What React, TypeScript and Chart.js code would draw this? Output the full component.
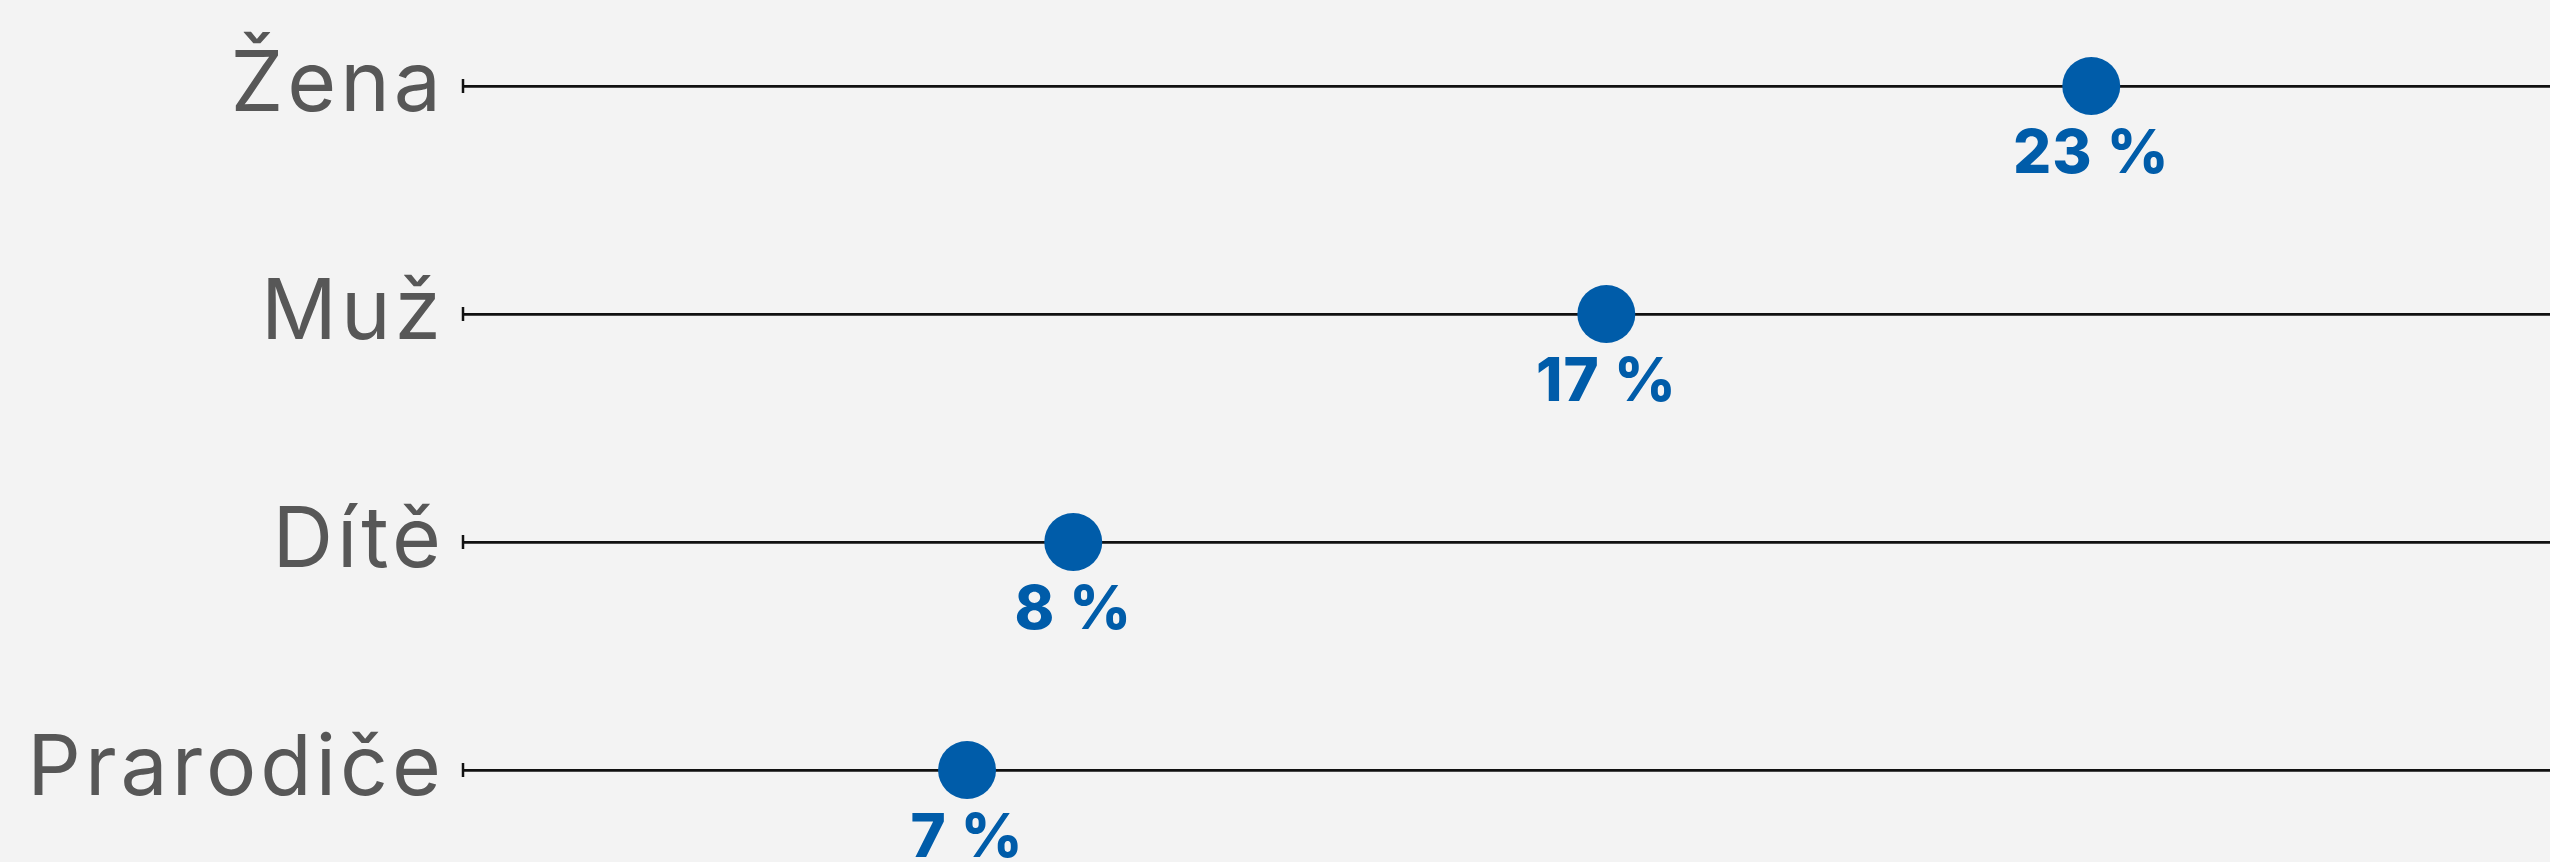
import React, { useEffect, useRef } from "react";
import { Chart, registerables } from "chart.js";

Chart.register(...registerables);

const categories = ["Žena", "Muž", "Dítě", "Prarodiče"];
// positions (axis in % units, 0 at the left tick)
const values = [23.0, 16.15, 8.62, 7.12];
const valueLabels = ["23 %", "17 %", "8 %", "7 %"];
const axisMin = 0;
const axisMax = 29.48;

const BLUE = "#005CA9";

const valueLabelPlugin = {
  id: "valueLabels",
  beforeDraw(chart: any) {
    chart.ctx.letterSpacing = "4px";
  },
  afterDatasetsDraw(chart: any) {
    const meta = chart.getDatasetMeta(1);
    const ctx = chart.ctx;
    ctx.save();
    ctx.letterSpacing = "1px";
    ctx.fillStyle = BLUE;
    ctx.font = "800 60px Inter, 'Open Sans', sans-serif";
    ctx.textAlign = "center";
    ctx.textBaseline = "alphabetic";
    meta.data.forEach((el: any, i: number) => {
      ctx.fillText(valueLabels[i], el.x, el.y + 87);
    });
    ctx.restore();
  },
};

export default function App() {
  const ref = useRef<HTMLCanvasElement>(null);
  useEffect(() => {
    if (!ref.current) return;
    const chart = new Chart(ref.current, {
      type: "scatter",
      data: {
        datasets: [
          {
            label: "start",
            data: categories.map((c) => ({ x: axisMin, y: c })) as any,
            pointStyle: "line",
            rotation: 90,
            radius: 7,
            borderWidth: 2.5,
            borderColor: "#111",
            backgroundColor: "#111",
            clip: false as any,
          },
          {
            label: "share",
            data: categories.map((c, i) => ({ x: values[i], y: c })) as any,
            pointRadius: 29,
            pointHoverRadius: 29,
            backgroundColor: BLUE,
            borderWidth: 0,
            clip: false as any,
          },
        ],
      },
      options: {
        animation: false,
        responsive: false,
        maintainAspectRatio: false,
        layout: { autoPadding: false, padding: { top: 86, bottom: 92, left: 0, right: 0 } } as any,
        plugins: { legend: { display: false }, tooltip: { enabled: false } },
        scales: {
          x: { type: "linear", min: axisMin, max: axisMax, display: false },
          y: {
            type: "category",
            labels: categories,
            offset: false,
            border: { display: false },
            grid: { color: "#111", lineWidth: 2.8, drawTicks: false },
            ticks: {
              color: "#575757",
              padding: 18,
              font: { family: "Inter, 'Open Sans', sans-serif", size: 84, weight: 400 as any },
            },
            afterFit(scale: any) {
              scale.width = 463;
            },
          } as any,
        },
      },
      plugins: [valueLabelPlugin],
    });
    return () => chart.destroy();
  }, []);
  return (
    <div
      style={{
        position: "fixed",
        left: 0,
        top: 0,
        width: 2550,
        height: 862,
        background: "#f3f3f3",
      }}
    >
      <canvas ref={ref} width={2550} height={862} style={{ display: "block" }} />
    </div>
  );
}
